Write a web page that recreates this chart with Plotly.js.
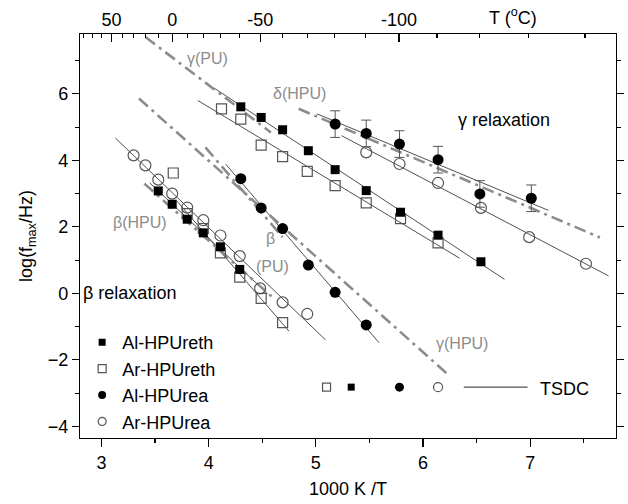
<!DOCTYPE html>
<html><head><meta charset="utf-8">
<script src="https://cdn.plot.ly/plotly-3.0.1.min.js"></script>
<style>html,body{margin:0;padding:0;background:#fff}#chart{width:628px;height:504px}</style>
</head><body><div id="chart"></div>
<script>
// ---- data (1000 K / T , log f_max) ----
const alUrethBetaX = [3.53, 3.66, 3.80, 3.95, 4.11, 4.29];
const alUrethBetaY = [3.08, 2.68, 2.23, 1.82, 1.40, 0.72];
const alUrethGammaX = [4.30, 4.49, 4.69, 4.93, 5.18, 5.47, 5.79, 6.14, 6.54];
const alUrethGammaY = [5.61, 5.29, 4.92, 4.29, 3.72, 3.09, 2.44, 1.75, 0.95];

const arUrethBetaX = [3.67, 3.80, 3.95, 4.11, 4.29, 4.49, 4.69];
const arUrethBetaY = [3.62, 2.40, 1.95, 1.22, 0.49, -0.15, -0.88];
const arUrethGammaX = [4.12, 4.30, 4.49, 4.69, 4.92, 5.18, 5.47, 5.79, 6.14];
const arUrethGammaY = [5.55, 5.24, 4.46, 4.11, 3.67, 3.24, 2.72, 2.25, 1.52];

const alUreaBetaX = [4.30, 4.49, 4.69, 4.93, 5.18, 5.47];
const alUreaBetaY = [3.45, 2.57, 1.95, 0.85, 0.03, -0.95];
const alUreaGammaX = [5.18, 5.47, 5.78, 6.14, 6.53, 7.01];
const alUreaGammaY = [5.09, 4.81, 4.49, 4.02, 2.99, 2.86];
const alUreaGammaErr = [0.4, 0.4, 0.4, 0.4, 0.4, 0.4];

const arUreaBetaX = [3.30, 3.41, 3.53, 3.66, 3.80, 3.95, 4.11, 4.29, 4.48, 4.69, 4.92];
const arUreaBetaY = [4.15, 3.85, 3.42, 3.00, 2.58, 2.20, 1.74, 1.12, 0.15, -0.27, -0.62];
const arUreaGammaX = [5.47, 5.78, 6.14, 6.54, 6.99, 7.52];
const arUreaGammaY = [4.24, 3.89, 3.32, 2.57, 1.69, 0.89];

// x-extent of each fitted Arrhenius line
const alUrethGammaFitRange = [4.05, 6.76];
const arUrethGammaFitRange = [3.90, 6.34];
const alUreaGammaFitRange = [5.01, 7.17];
const arUreaGammaFitRange = [5.24, 7.73];
const arUreaBetaFitRange = [3.13, 5.09];
const alUreaBetaFitRange = [4.16, 5.59];
const alUrethBetaFitRange = [3.45, 4.55];
const arUrethBetaFitRange = [3.70, 4.75];

// literature lines (dash-dot)
const gammaPUX = [3.41, 4.58],  gammaPUY = [7.71, 4.84];
const deltaHPUX = [4.84, 7.65], deltaHPUY = [5.55, 1.68];
const gammaHPUX = [3.35, 6.24], gammaHPUY = [5.86, -2.46];
const betaHPUX = [3.40, 4.59],  betaHPUY = [3.30, -0.10];
const betaPUX = [3.97, 4.69],   betaPUY = [4.39, 1.69];

// TSDC row
const tsdcX = [5.10, 5.33, 5.78, 6.14];
const tsdcY = [-2.82, -2.82, -2.82, -2.82];
const tsdcLineX = [6.38, 6.975], tsdcLineY = [-2.82, -2.82];

// top axis (temperature, deg C)
const tMajor = [50, 0, -50, -100];
const tMinor = [80, 70, 60, 40, 30, 20, 10, -10, -20, -30, -40, -60, -70, -80, -90, -110, -120, -130, -140];
const invT = t => 1000 / (t + 273.15);

// ---- helpers ----
function fit(xs, ys, range) {
  const n = xs.length;
  const mx = xs.reduce((a, b) => a + b, 0) / n, my = ys.reduce((a, b) => a + b, 0) / n;
  let sxy = 0, sxx = 0;
  for (let i = 0; i < n; i++) { sxy += (xs[i] - mx) * (ys[i] - my); sxx += (xs[i] - mx) ** 2; }
  const b = sxy / sxx, a = my - b * mx;
  return { x: range, y: range.map(v => a + b * v) };
}
const FONT = 'Liberation Sans, Arial, sans-serif';
const fitLine = { color: '#505050', width: 1 };
const ddLine = { color: '#8c8c8c', width: 2.6, dash: '12px,5px,3px,5px' };
const gray = '#8c8c8c';
const openCol = '#555555';

const traces = [];
function lineTrace(obj, line) {
  traces.push({ x: obj.x, y: obj.y, mode: 'lines', line: line, showlegend: false, hoverinfo: 'skip' });
}
// fits
lineTrace(fit(alUrethGammaX, alUrethGammaY, alUrethGammaFitRange), fitLine);
lineTrace(fit(arUrethGammaX, arUrethGammaY, arUrethGammaFitRange), fitLine);
lineTrace(fit(alUreaGammaX, alUreaGammaY, alUreaGammaFitRange), fitLine);
lineTrace(fit(arUreaGammaX, arUreaGammaY, arUreaGammaFitRange), fitLine);
lineTrace(fit(arUreaBetaX, arUreaBetaY, arUreaBetaFitRange), fitLine);
lineTrace(fit(alUreaBetaX, alUreaBetaY, alUreaBetaFitRange), fitLine);
lineTrace(fit(alUrethBetaX, alUrethBetaY, alUrethBetaFitRange), fitLine);
lineTrace(fit(arUrethBetaX.slice(1), arUrethBetaY.slice(1), arUrethBetaFitRange), fitLine);
// literature
lineTrace({ x: gammaPUX, y: gammaPUY }, ddLine);
lineTrace({ x: deltaHPUX, y: deltaHPUY }, ddLine);
lineTrace({ x: gammaHPUX, y: gammaHPUY }, ddLine);
lineTrace({ x: betaHPUX, y: betaHPUY }, ddLine);
lineTrace({ x: betaPUX, y: betaPUY }, ddLine);
lineTrace({ x: tsdcLineX, y: tsdcLineY }, { color: '#505050', width: 1.2 });

const mFilledSq = { symbol: 'square', size: 9, color: '#000' };
const mOpenSq = { symbol: 'square-open', size: 10, color: openCol, line: { width: 1.2 } };
const mFilledC = { symbol: 'circle', size: 11, color: '#000' };
const mOpenC = { symbol: 'circle-open', size: 11, color: openCol, line: { width: 1.2 } };

function pts(x, y, m, extra) {
  traces.push(Object.assign({ x: x, y: y, mode: 'markers', marker: m, showlegend: false, hoverinfo: 'skip' }, extra || {}));
}
pts(arUrethBetaX, arUrethBetaY, mOpenSq);
pts(arUrethGammaX, arUrethGammaY, mOpenSq);
pts(arUreaBetaX, arUreaBetaY, mOpenC);
pts(arUreaGammaX, arUreaGammaY, mOpenC);
pts(alUrethBetaX, alUrethBetaY, mFilledSq);
pts(alUrethGammaX, alUrethGammaY, mFilledSq);
pts(alUreaBetaX, alUreaBetaY, mFilledC);
pts(alUreaGammaX, alUreaGammaY, mFilledC, {
  error_y: { type: 'data', array: alUreaGammaErr, visible: true, color: '#555', thickness: 1, width: 5 }
});
// TSDC symbols
pts([tsdcX[0]], [tsdcY[0]], { symbol: 'square-open', size: 8, color: openCol, line: { width: 1.2 } });
pts([tsdcX[1]], [tsdcY[1]], { symbol: 'square', size: 7, color: '#000' });
pts([tsdcX[2]], [tsdcY[2]], { symbol: 'circle', size: 9, color: '#000' });
pts([tsdcX[3]], [tsdcY[3]], { symbol: 'circle-open', size: 9, color: openCol, line: { width: 1.2 } });

// legend entries
const legendNames = ['Al-HPUreth', 'Ar-HPUreth', 'Al-HPUrea', 'Ar-HPUrea'];
const legendMarkers = [
  { symbol: 'square', size: 7, color: '#000' },
  { symbol: 'square-open', size: 8, color: openCol, line: { width: 1.2 } },
  { symbol: 'circle', size: 8, color: '#000' },
  { symbol: 'circle-open', size: 8, color: openCol, line: { width: 1.2 } }
];
legendNames.forEach((n, i) => traces.push({
  x: [null], y: [null], mode: 'markers', name: n, marker: legendMarkers[i], showlegend: true
}));
// invisible trace on top axis
traces.push({ x: [3], y: [0], xaxis: 'x2', mode: 'markers', marker: { opacity: 0 }, showlegend: false, hoverinfo: 'skip' });

const ann = (text, x, y, size, color, extra) => Object.assign({
  text: text, x: x, y: y, xref: 'x', yref: 'y', showarrow: false,
  font: { family: FONT, size: size, color: color }
}, extra || {});

const layout = {
  width: 628, height: 504,
  margin: { l: 80, r: 12, t: 34, b: 66 },
  paper_bgcolor: '#fff', plot_bgcolor: '#fff',
  font: { family: FONT, size: 18, color: '#000' },
  showlegend: true,
  legend: {
    x: 0.004, y: 0.282, xanchor: 'left', yanchor: 'top', bgcolor: 'rgba(0,0,0,0)',
    font: { family: FONT, size: 18, color: '#000' }, traceorder: 'normal'
  },
  xaxis: {
    range: [2.8, 7.8], showgrid: false, zeroline: false, showline: true, linecolor: '#000', linewidth: 1.2,
    ticks: 'outside', ticklen: 8, tickwidth: 1.2, tickcolor: '#000', dtick: 1, tick0: 3,
    minor: { dtick: 0.5, tick0: 3, ticks: 'outside', ticklen: 4, tickwidth: 1.2, tickcolor: '#000' },
    tickfont: { family: FONT, size: 18 },
    title: { text: '1000 K /T', font: { family: FONT, size: 18 }, standoff: 10 }
  },
  xaxis2: {
    overlaying: 'x', side: 'top', range: [2.8, 7.8], showgrid: false, zeroline: false,
    showline: true, linecolor: '#000', linewidth: 1.2,
    tickmode: 'array', tickvals: tMajor.map(invT), ticktext: tMajor.map(String),
    ticks: 'inside', ticklen: 8, tickwidth: 1.2, tickcolor: '#000',
    minor: { tickmode: 'array', tickvals: tMinor.map(invT), ticks: 'inside', ticklen: 4, tickwidth: 1.2, tickcolor: '#000' },
    tickfont: { family: FONT, size: 18 }
  },
  yaxis: {
    range: [-4.35, 7.8], showgrid: false, zeroline: false, showline: true, linecolor: '#000', linewidth: 1.2,
    mirror: 'ticks', ticks: 'outside', ticklen: 7, tickwidth: 1.2, tickcolor: '#000', dtick: 2, tick0: 0,
    minor: { dtick: 1, ticks: 'outside', ticklen: 4, tickwidth: 1.2, tickcolor: '#000' },
    tickfont: { family: FONT, size: 18 },
    title: { text: 'log(f<sub>max</sub>/Hz)', font: { family: FONT, size: 18 }, standoff: 10 }
  },
  annotations: [
    ann('γ(PU)', 3.99, 7.07, 16, gray),
    ann('δ(HPU)', 4.846, 6.01, 16, gray),
    ann('γ relaxation', 6.755, 5.20, 18, '#000'),
    ann('β(HPU)', 3.364, 2.14, 16, gray),
    ann('β', 4.58, 1.65, 16, gray),
    ann('(PU)', 4.60, 0.80, 16, gray),
    ann('γ(HPU)', 6.36, -1.50, 16, gray),
    ann('β relaxation', 2.812, 0.0, 18, '#000', { xanchor: 'left' }),
    ann('TSDC', 7.07, -2.88, 18, '#000', { xanchor: 'left' }),
    { text: 'T (<sup>o</sup>C)', xref: 'paper', yref: 'paper', x: 0.759, xanchor: 'left', y: 1, yanchor: 'bottom', yshift: 4,
      showarrow: false, font: { family: FONT, size: 18, color: '#000' } }
  ]
};
Plotly.newPlot('chart', traces, layout, { staticPlot: true });
</script></body></html>
